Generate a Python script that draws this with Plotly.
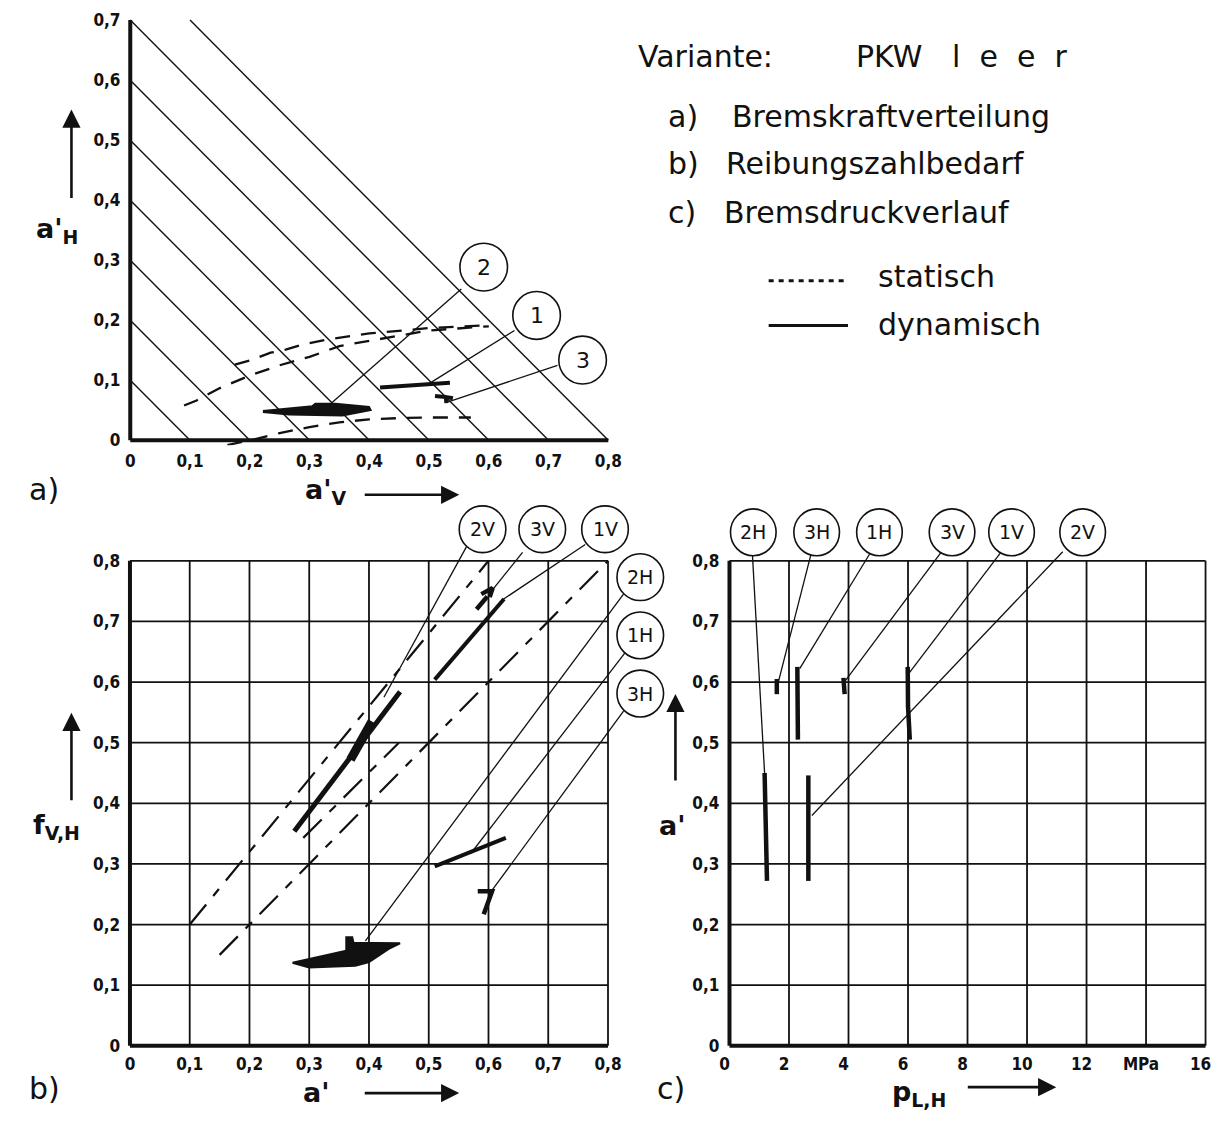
import plotly.graph_objects as go

# ---------------- data ----------------
# panel a
iso_levels = [0.1, 0.2, 0.3, 0.4, 0.5, 0.6, 0.7, 0.8]
a_stat1_x = [0.175, 0.20, 0.235, 0.26, 0.29, 0.33, 0.40, 0.50, 0.60]
a_stat1_y = [0.126, 0.133, 0.146, 0.151, 0.160, 0.168, 0.178, 0.187, 0.192]
a_stat2_x = [0.09, 0.11, 0.15, 0.20, 0.25, 0.30, 0.35, 0.40, 0.50, 0.60]
a_stat2_y = [0.058, 0.066, 0.087, 0.108, 0.125, 0.139, 0.157, 0.166, 0.183, 0.190]
a_stat3_x = [0.12, 0.20, 0.25, 0.30, 0.35, 0.40, 0.45, 0.50, 0.57]
a_stat3_y = [-0.017, 0.0, 0.012, 0.022, 0.030, 0.035, 0.037, 0.038, 0.038]
a_dyn1_x = [0.418, 0.535]
a_dyn1_y = [0.088, 0.096]
a_dyn2_x = [0.222, 0.266, 0.305, 0.31, 0.343, 0.399, 0.401, 0.355, 0.266, 0.222]
a_dyn2_y = [0.048, 0.052, 0.056, 0.060, 0.060, 0.055, 0.051, 0.042, 0.044, 0.048]
a_dyn3_x = [0.51, 0.528, 0.529, 0.529, 0.54]
a_dyn3_y = [0.074, 0.072, 0.062, 0.072, 0.070]
a_labels = ["2", "1", "3"]
a_lab_x = [0.5915, 0.680, 0.757]
a_lab_y = [0.2886, 0.208, 0.1337]
a_lead_x0 = [0.554, 0.643, 0.715]
a_lead_y0 = [0.252, 0.183, 0.125]
a_lead_x1 = [0.333, 0.496, 0.532]
a_lead_y1 = [0.059, 0.092, 0.064]
a_xticks = [0, 0.1, 0.2, 0.3, 0.4, 0.5, 0.6, 0.7, 0.8]
a_xtext = ["0", "0,1", "0,2", "0,3", "0,4", "0,5", "0,6", "0,7", "0,8"]
a_yticks = [0, 0.1, 0.2, 0.3, 0.4, 0.5, 0.6, 0.7]
a_ytext = ["0", "0,1", "0,2", "0,3", "0,4", "0,5", "0,6", "0,7"]

# panel b
b_grid_x = [0, 0.1, 0.2, 0.3, 0.4, 0.5, 0.6, 0.7, 0.8]
b_grid_y = [0, 0.1, 0.2, 0.3, 0.4, 0.5, 0.6, 0.7, 0.8]
b_xtext = ["0", "0,1", "0,2", "0,3", "0,4", "0,5", "0,6", "0,7", "0,8"]
b_ytext = ["0", "0,1", "0,2", "0,3", "0,4", "0,5", "0,6", "0,7", "0,8"]
b_stat1_x = [0.10, 0.60]
b_stat1_y = [0.20, 0.80]
b_stat2_x = [0.15, 0.80]
b_stat2_y = [0.15, 0.80]
b_stat3_x = [0.29, 0.45]
b_stat3_y = [0.343, 0.50]
b_2v_x = [0.275, 0.452]
b_2v_y = [0.354, 0.584]
b_2v_thick_x = [0.369, 0.405]
b_2v_thick_y = [0.472, 0.535]
b_1v_x = [0.51, 0.626]
b_1v_y = [0.604, 0.737]
b_3v_x = [0.58, 0.598, None, 0.588, 0.607, 0.602]
b_3v_y = [0.72, 0.741, None, 0.745, 0.755, 0.74]
b_1h_x = [0.51, 0.629]
b_1h_y = [0.296, 0.343]
b_3h_x = [0.582, 0.606, 0.592]
b_3h_y = [0.255, 0.255, 0.217]
b_2h_x = [0.272, 0.300, 0.340, 0.362, 0.362, 0.372, 0.374, 0.410, 0.452, 0.433, 0.400, 0.377, 0.300, 0.272]
b_2h_y = [0.137, 0.143, 0.152, 0.157, 0.179, 0.179, 0.170, 0.170, 0.169, 0.160, 0.138, 0.132, 0.129, 0.137]
b_labels = ["2V", "3V", "1V", "2H", "1H", "3H"]
b_lab_x = [0.590, 0.690, 0.795, 0.854, 0.854, 0.854]
b_lab_y = [0.852, 0.852, 0.852, 0.773, 0.677, 0.581]
b_lead_x0 = [0.563, 0.657, 0.762, 0.826, 0.829, 0.826]
b_lead_y0 = [0.823, 0.814, 0.827, 0.745, 0.649, 0.552]
b_lead_x1 = [0.425, 0.601, 0.621, 0.394, 0.571, 0.607]
b_lead_y1 = [0.575, 0.745, 0.734, 0.173, 0.318, 0.258]

# panel c
c_grid_x = [0, 2, 4, 6, 8, 10, 12, 14, 16]
c_xtext = ["0", "2", "4", "6", "8", "10", "12", "MPa", "16"]
c_grid_y = [0, 0.1, 0.2, 0.3, 0.4, 0.5, 0.6, 0.7, 0.8]
c_ytext = ["0", "0,1", "0,2", "0,3", "0,4", "0,5", "0,6", "0,7", "0,8"]
c_marks = {
    "2H": ([1.18, 1.26], [0.45, 0.272]),
    "2V": ([2.65, 2.65], [0.446, 0.272]),
    "3H": ([1.59, 1.59], [0.605, 0.58]),
    "1H": ([2.28, 2.30], [0.625, 0.505]),
    "3V": ([3.83, 3.87], [0.607, 0.58]),
    "1V": ([5.99, 6.0, 6.06], [0.625, 0.56, 0.505]),
}
c_labels = ["2H", "3H", "1H", "3V", "1V", "2V"]
c_lab_x = [0.80, 2.93, 5.04, 7.48, 9.48, 11.87]
c_lab_y = [0.847, 0.847, 0.847, 0.847, 0.847, 0.847]
c_lead_x0 = [0.77, 2.74, 4.72, 7.13, 9.14, 11.2]
c_lead_y0 = [0.811, 0.811, 0.812, 0.815, 0.815, 0.815]
c_lead_x1 = [1.18, 1.59, 2.36, 3.89, 6.01, 2.77]
c_lead_y1 = [0.449, 0.59, 0.622, 0.602, 0.613, 0.38]

# ---------------- layout helpers ----------------
W, H = 1216, 1122
BLACK = "#111111"
TICKFONT = dict(family="Liberation Sans Narrow, DejaVu Sans Condensed, Arial Narrow, sans-serif",
                size=17, color=BLACK, weight="bold")
TXT = "DejaVu Sans, sans-serif"


def xdom(px0, scale, lo, hi):
    return [(px0 + scale * lo) / W, (px0 + scale * hi) / W]


def ydom(py0, scale, lo, hi):
    return [1 - (py0 - scale * lo) / H, 1 - (py0 - scale * hi) / H]


fig = go.Figure()


def line(xs, ys, ax, width, dash="solid", fill=None):
    fig.add_trace(go.Scatter(x=xs, y=ys, mode="lines", xaxis=ax[0], yaxis=ax[1],
                             line=dict(color=BLACK, width=width, dash=dash),
                             fill=fill, fillcolor=BLACK if fill else None,
                             hoverinfo="skip", showlegend=False))


def segments(x0s, y0s, x1s, y1s):
    xs, ys = [], []
    for a, b, c, d in zip(x0s, y0s, x1s, y1s):
        xs += [a, c, None]
        ys += [b, d, None]
    return xs, ys


def grid(gx, gy):
    xs, ys = [], []
    for v in gx[1:]:
        xs += [v, v, None]
        ys += [gy[0], gy[-1], None]
    for v in gy[1:]:
        xs += [gx[0], gx[-1], None]
        ys += [v, v, None]
    return xs, ys


A = ("x", "y")
B = ("x2", "y2")
C = ("x3", "y3")

# ---------- panel a ----------
ixs, iys = [], []
ymax_a = a_yticks[-1]
for c in iso_levels:
    if c <= ymax_a:
        ixs += [0, c, None]
        iys += [c, 0, None]
    else:
        ixs += [c - ymax_a, c, None]
        iys += [ymax_a, 0, None]
line(ixs, iys, A, 1.4)
line([0, 0, None, 0, a_xticks[-1]], [0, ymax_a, None, 0, 0], A, 4)
adash = "15px,11px"
line(a_stat1_x, a_stat1_y, A, 2.3, adash)
line(a_stat2_x, a_stat2_y, A, 2.3, adash)
line(a_stat3_x, a_stat3_y, A, 2.3, adash)
line(a_dyn1_x, a_dyn1_y, A, 4)
line(a_dyn2_x, a_dyn2_y, A, 3, fill="toself")
line(a_dyn3_x, a_dyn3_y, A, 4)
lx, ly = segments(a_lead_x0, a_lead_y0, a_lead_x1, a_lead_y1)
line(lx, ly, A, 1.3)

# ---------- panel b ----------
gx, gy = grid(b_grid_x, b_grid_y)
line(gx, gy, B, 1.8)
line([0, 0, None, 0, b_grid_x[-1]], [0, b_grid_y[-1], None, 0, 0], B, 4)
bdash = "26px,11px,9px,11px"
line(b_stat1_x, b_stat1_y, B, 2.2, bdash)
line(b_stat2_x, b_stat2_y, B, 2.2, bdash)
line(b_stat3_x, b_stat3_y, B, 2.2, bdash)
line(b_2v_x, b_2v_y, B, 5)
line(b_2v_thick_x, b_2v_thick_y, B, 9)
line(b_1v_x, b_1v_y, B, 4)
line(b_3v_x, b_3v_y, B, 4.5)
line(b_1h_x, b_1h_y, B, 4)
line(b_3h_x, b_3h_y, B, 4.5)
line(b_2h_x, b_2h_y, B, 2, fill="toself")
lx, ly = segments(b_lead_x0, b_lead_y0, b_lead_x1, b_lead_y1)
line(lx, ly, B, 1.3)

# ---------- panel c ----------
gx, gy = grid(c_grid_x, c_grid_y)
line(gx, gy, C, 1.8)
line([0, 0, None, 0, c_grid_x[-1]], [0, c_grid_y[-1], None, 0, 0], C, 4)
for k, (mx, my) in c_marks.items():
    line(mx, my, C, 4.5)
lx, ly = segments(c_lead_x0, c_lead_y0, c_lead_x1, c_lead_y1)
line(lx, ly, C, 1.3)

# ---------- axes ----------
ax_common = dict(showgrid=False, zeroline=False, showline=False, ticks="",
                 tickfont=TICKFONT, fixedrange=True, ticklabeloverflow="allow")

a_px0, a_sx, a_py0, a_sy = 126.3, 602.5, 442.3, 603.0
a_xr, a_yr = [-0.008, 0.815], [-0.008, 0.72]
b_px0, b_sx, b_py0, b_sy = 126.0, 602.5, 1050.5, 609.0
b_xr, b_yr = [-0.008, 0.905], [-0.008, 0.905]
c_px0, c_sx = 730.5, 30.0
c_xr, c_yr = [-0.17, 16.12], [-0.008, 0.905]

fig.update_layout(
    xaxis=dict(domain=xdom(a_px0, a_sx, *a_xr), range=a_xr, anchor="y",
               tickvals=a_xticks, ticktext=a_xtext, ticklabelstandoff=4, **ax_common),
    yaxis=dict(domain=ydom(a_py0, a_sy, *a_yr), range=a_yr, anchor="x",
               tickvals=a_yticks, ticktext=a_ytext, ticklabelstandoff=4, **ax_common),
    xaxis2=dict(domain=xdom(b_px0, b_sx, *b_xr), range=b_xr, anchor="y2",
                tickvals=b_grid_x, ticktext=b_xtext, ticklabelstandoff=1, **ax_common),
    yaxis2=dict(domain=ydom(b_py0, b_sy, *b_yr), range=b_yr, anchor="x2",
                tickvals=b_grid_y, ticktext=b_ytext, ticklabelstandoff=4, **ax_common),
    xaxis3=dict(domain=xdom(c_px0, c_sx, *c_xr), range=c_xr, anchor="y3",
                tickvals=c_grid_x, ticktext=c_xtext, ticklabelstandoff=1,
                ticklabelshift=-5, **ax_common),
    yaxis3=dict(domain=ydom(b_py0, b_sy, *c_yr), range=c_yr, anchor="x3",
                tickvals=c_grid_y, ticktext=c_ytext, ticklabelstandoff=4, **ax_common),
)

# ---------- circles with labels ----------
shapes = []
annotations = []


def circles(labels, cxs, cys, rx, ry, xr, yr, size):
    for t, cx, cy in zip(labels, cxs, cys):
        shapes.append(dict(type="circle", xref=xr, yref=yr, x0=cx - rx, x1=cx + rx,
                           y0=cy - ry, y1=cy + ry, line=dict(color=BLACK, width=1.6),
                           fillcolor="white", layer="above"))
        annotations.append(dict(text=t, x=cx, y=cy, xref=xr, yref=yr, showarrow=False,
                                font=dict(family=TXT, size=size, color=BLACK),
                                xanchor="center", yanchor="middle"))


circles(a_labels, a_lab_x, a_lab_y, 24 / a_sx, 24 / a_sy, "x", "y", 22)
circles(b_labels, b_lab_x, b_lab_y, 23.5 / b_sx, 23.5 / b_sy, "x2", "y2", 19)
circles(c_labels, c_lab_x, c_lab_y, 23 / c_sx, 23.5 / b_sy, "x3", "y3", 19)


def ptext(t, x, y, size, bold=False, xanchor="left", family=TXT):
    annotations.append(dict(text=t, x=x / W, y=1 - y / H, xref="paper", yref="paper",
                            showarrow=False, xanchor=xanchor, yanchor="middle",
                            font=dict(family=family, size=size, color=BLACK,
                                      weight="bold" if bold else "normal")))


def parrow(x0, y0, x1, y1):
    annotations.append(dict(text="", x=x1 / W, y=1 - y1 / H, ax=x0 - x1, ay=y0 - y1,
                            xref="paper", yref="paper", axref="pixel", ayref="pixel",
                            showarrow=True, arrowhead=2, arrowsize=1.4, arrowwidth=2.6,
                            arrowcolor=BLACK))


# legend / title block
LS = 30
ptext("Variante:", 636, 57, LS)
ptext("PKW", 856, 57, LS)
ptext("l  e  e  r", 953, 57, LS)
ptext("a)", 666, 117, LS)
ptext("Bremskraftverteilung", 731, 117, LS)
ptext("b)", 666, 164, LS)
ptext("Reibungszahlbedarf", 725, 164, LS)
ptext("c)", 666, 213, LS)
ptext("Bremsdruckverlauf", 723, 213, LS)
ptext("statisch", 878, 278, LS)
ptext("dynamisch", 878, 326, LS)
shapes.append(dict(type="line", xref="paper", yref="paper", x0=770 / W, x1=850 / W,
                   y0=1 - 282 / H, y1=1 - 282 / H, line=dict(color=BLACK, width=3, dash="5px,5px")))
shapes.append(dict(type="line", xref="paper", yref="paper", x0=770 / W, x1=850 / W,
                   y0=1 - 327 / H, y1=1 - 327 / H, line=dict(color=BLACK, width=3)))

# panel labels
ptext("a)", 22, 492, LS)
ptext("b)", 22, 1093, LS)
ptext("c)", 655, 1093, LS)

# axis titles
ptext("a'<sub>H</sub>", 52, 232, 27, bold=True, xanchor="center")
parrow(67, 200, 67, 110)

ptext("a'<sub>V</sub>", 324, 494, 27, bold=True, xanchor="center")
parrow(362, 497, 458, 497)

ptext("f<sub>V,H</sub>", 52, 830, 27, bold=True, xanchor="center")
parrow(67, 805, 67, 716)

ptext("a'", 314, 1097, 27, bold=True, xanchor="center")
parrow(362, 1098, 458, 1098)

ptext("a'", 673, 829, 27, bold=True, xanchor="center")
parrow(676, 785, 676, 697)

ptext("p<sub>L,H</sub>", 922, 1098, 27, bold=True, xanchor="center")
parrow(970, 1092, 1060, 1092)

fig.update_layout(
    width=W, height=H, autosize=False,
    margin=dict(l=0, r=0, t=0, b=0),
    paper_bgcolor="white", plot_bgcolor="white",
    showlegend=False,
    shapes=shapes, annotations=annotations,
)

fig.write_html("out.html", config={"displayModeBar": False},
               post_script="document.body.style.margin='0px';document.body.style.overflow='hidden';")
